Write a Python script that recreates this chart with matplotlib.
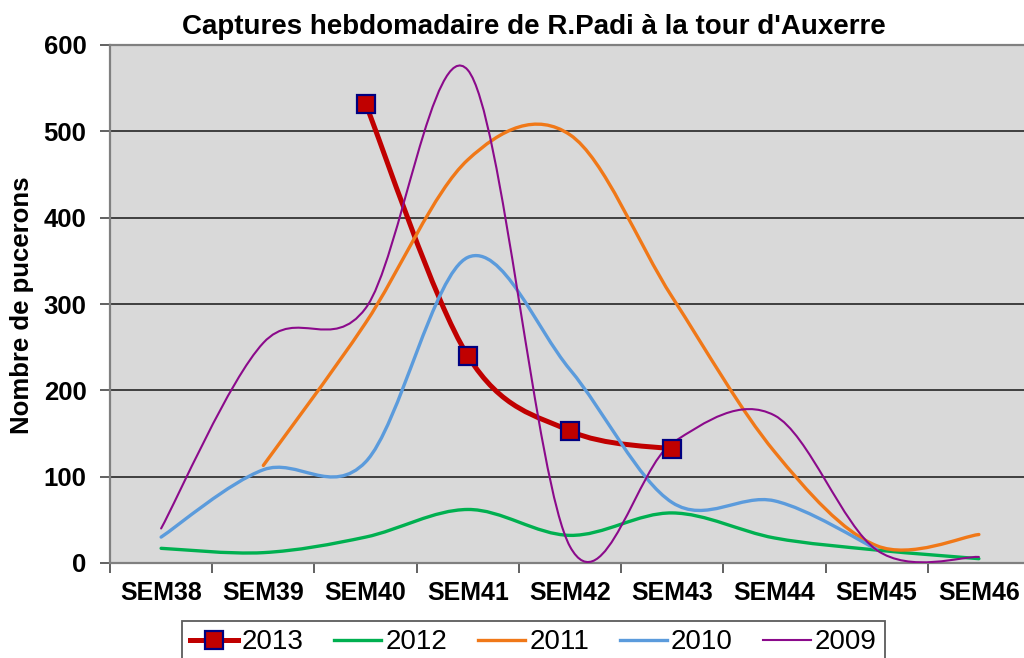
import numpy as np
import matplotlib
matplotlib.use("Agg")
import matplotlib.pyplot as plt
from matplotlib.path import Path
from matplotlib.patches import PathPatch
from matplotlib.lines import Line2D

plt.rcParams['font.family'] = ['Liberation Sans', 'DejaVu Sans']

weeks = ["SEM38", "SEM39", "SEM40", "SEM41", "SEM42", "SEM43", "SEM44", "SEM45", "SEM46"]
y2013 = [np.nan, np.nan, 532, 240, 153, 132, np.nan, np.nan, np.nan]
y2012 = [17, 12, 30, 62, 32, 58, 29, 15, 5]
y2011 = [np.nan, 113, 278, 467, 496, 308, 129, 20, 33]
y2010 = [30, 108, 117, 354, 224, 70, 72, 16, np.nan]
y2009 = [40, 255, 295, 571, 19, 139, 171, 15, 7]

series = [
    ("2013", y2013, "#c00000", 3.6),
    ("2012", y2012, "#00b050", 2.4),
    ("2011", y2011, "#f07818", 2.4),
    ("2010", y2010, "#5b9bdc", 2.4),
    ("2009", y2009, "#8b0a8b", 1.5),
]


def smooth_path(xs, ys):
    """Excel-like smoothed line: cubic bezier through the points (Catmull-Rom)."""
    pts = np.column_stack([xs, ys])
    n = len(pts)
    verts = [pts[0]]
    codes = [Path.MOVETO]
    for i in range(n - 1):
        p0 = pts[i - 1] if i > 0 else pts[i]
        p1 = pts[i]
        p2 = pts[i + 1]
        p3 = pts[i + 2] if i + 2 < n else pts[i + 1]
        c1 = p1 + (p2 - p0) / 6.0
        c2 = p2 - (p3 - p1) / 6.0
        verts += [c1, c2, p2]
        codes += [Path.CURVE4] * 3
    return Path(verts, codes)


fig = plt.figure(figsize=(10.24, 6.58), dpi=100)
ax = fig.add_axes([110 / 1024, 1 - 563 / 658, 920 / 1024, 518 / 658])
ax.set_facecolor("#d9d9d9")

x = np.arange(len(weeks))
handles = []
for name, vals, col, lw in series:
    v = np.array(vals, dtype=float)
    ok = ~np.isnan(v)
    p = smooth_path(x[ok], v[ok])
    ax.add_patch(PathPatch(p, facecolor="none", edgecolor=col, lw=lw,
                           capstyle="round", joinstyle="round", zorder=3))
    if name == "2013":
        ax.plot(x[ok], v[ok], ls="none", marker="s", ms=13, mfc="#c00000",
                mec="#000080", mew=1.6, zorder=4)
        handles.append(Line2D([], [], color=col, lw=lw, marker="s", ms=13,
                              mfc="#c00000", mec="#000080", mew=1.6))
    else:
        handles.append(Line2D([], [], color=col, lw=lw))

ax.set_xlim(-0.5, len(weeks) - 0.5)
ax.set_ylim(0, 600)
ax.set_yticks(np.arange(0, 601, 100))
ax.yaxis.grid(True, color="#333333", lw=1.3)
ax.set_axisbelow(True)

ax.set_xticks(np.arange(-0.5, len(weeks), 1.0))
ax.set_xticklabels([])
ax.set_xticks(x, minor=True)
ax.set_xticklabels(weeks, minor=True, fontsize=18, fontweight="bold")
ax.tick_params(axis="x", which="minor", length=0, pad=13)
ax.tick_params(axis="x", which="major", length=7, width=1.3, color="#555555", direction="out")
ax.tick_params(axis="y", length=7, width=1.3, color="#555555", pad=10,
               labelsize=18.5)
for lab in ax.get_yticklabels():
    lab.set_fontweight("bold")

for s in ["left", "bottom", "top"]:
    ax.spines[s].set_color("#808080")
    ax.spines[s].set_linewidth(1.6)
ax.spines["right"].set_visible(False)

fig.text(22 / 1024, 1 - 305 / 658, "Nombre de pucerons", rotation=90,
         ha="center", va="center", fontsize=18.5, fontweight="bold")
fig.text(534 / 1024, 1 - 27 / 658, "Captures hebdomadaire de R.Padi à la tour d'Auxerre",
         ha="center", va="center", fontsize=20, fontweight="bold")

leg = fig.legend(handles, [s[0] for s in series], loc="upper left",
                 bbox_to_anchor=(182 / 1024, 1 - 621 / 658), ncol=5,
                 fontsize=20, frameon=True, fancybox=False, borderpad=0.3,
                 handlelength=1.7, handletextpad=0.15, columnspacing=1.1,
                 borderaxespad=0)
leg.get_frame().set_edgecolor("#333333")
leg.get_frame().set_linewidth(1.3)

fig.savefig("out.png", dpi=100)
